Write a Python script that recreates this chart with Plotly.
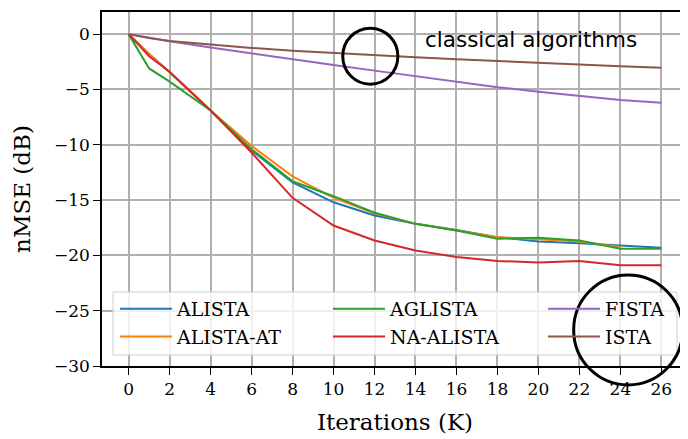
import plotly.graph_objects as go

# ---------------- data ----------------
x_learned = [0, 1, 2, 4, 6, 8, 10, 12, 14, 16, 18, 20, 22, 24, 26]
alista    = [0, -1.8, -3.45, -6.9, -10.5, -13.4, -15.2, -16.4, -17.15, -17.7, -18.35, -18.75, -18.9, -19.1, -19.3]
x_alista_at = [0, 1, 2, 4, 6, 8, 10, 12, 14, 16, 18, 20, 22, 24]
alista_at = [0, -1.8, -3.45, -6.9, -10.1, -12.85, -14.8, -16.2, -17.15, -17.75, -18.35, -18.55, -18.75, -19.25]
aglista   = [0, -3.1, -4.3, -6.9, -10.4, -13.3, -14.65, -16.15, -17.15, -17.75, -18.5, -18.4, -18.65, -19.4, -19.4]
na_alista = [0, -2.0, -3.4, -6.9, -10.7, -14.8, -17.3, -18.65, -19.55, -20.15, -20.5, -20.65, -20.5, -20.9, -20.9]
x_classic = [0, 1, 2, 4, 6, 8, 10, 12, 14, 16, 18, 20, 22, 24, 26]
fista     = [0, -0.35, -0.65, -1.2, -1.75, -2.3, -2.8, -3.3, -3.8, -4.3, -4.8, -5.2, -5.6, -5.95, -6.2]
ista      = [0, -0.35, -0.62, -0.95, -1.25, -1.5, -1.72, -1.92, -2.1, -2.28, -2.45, -2.6, -2.75, -2.9, -3.05]

x_ticks = list(range(0, 27, 2))
y_ticks = [0, -5, -10, -15, -20, -25, -30]

XMIN, XMAX = -1.3, 27.3
YMIN, YMAX = -30, 2

series = [
    ("ALISTA", x_learned, alista, "#1f77b4", "legend"),
    ("ALISTA-AT", x_alista_at, alista_at, "#ff7f0e", "legend"),
    ("AGLISTA", x_learned, aglista, "#2ca02c", "legend2"),
    ("NA-ALISTA", x_learned, na_alista, "#d62728", "legend2"),
    ("FISTA", x_classic, fista, "#9467bd", "legend3"),
    ("ISTA", x_classic, ista, "#8c564b", "legend3"),
]

SERIF = "DejaVu Serif"

# page geometry: the html body adds an 8px offset
OFF = 8
W, H = 688, 439
P_L, P_R, P_T, P_B = 102, 688, 12, 366   # plot area on screen
ML, MT = P_L - OFF, P_T - OFF
MR = W - (P_R - OFF)
MB = H - (P_B - OFF)

def ppx(s):
    return (s - P_L) / (P_R - P_L)

def ppy(s):
    return (P_B - s) / (P_B - P_T)

def dx(v):
    return (v - XMIN) / (XMAX - XMIN)

def dy(v):
    return (v - YMIN) / (YMAX - YMIN)

fig = go.Figure()
for name, xs, ys, col, lg in series:
    fig.add_trace(go.Scatter(x=xs, y=ys, mode="lines", name=name,
                             line=dict(color=col, width=2), legend=lg))

# legend frame (shape so the circle can be drawn over it)
fig.add_shape(type="rect", xref="paper", yref="paper",
              x0=ppx(113), x1=ppx(677), y0=ppy(355), y1=ppy(292),
              line=dict(color="#d0d0d0", width=1), fillcolor="rgba(255,255,255,0.8)",
              layer="above")

circles = [(10.45, 13.14, -4.52, 0.54), (21.72, 27.04, -31.71, -21.77)]
for x0, x1, y0, y1 in circles:
    fig.add_shape(type="circle", xref="paper", yref="paper",
                  x0=dx(x0), x1=dx(x1), y0=dy(y0), y1=dy(y1),
                  line=dict(color="black", width=3), layer="above")

fig.add_annotation(x=14.35, y=-0.5, xref="x", yref="y", text="classical algorithms",
                   showarrow=False, xanchor="left", yanchor="middle",
                   font=dict(family="DejaVu Sans", size=21.5, color="black"))

leg_common = dict(orientation="v", yanchor="top", xanchor="left",
                  itemwidth=52, bgcolor="rgba(0,0,0,0)", borderwidth=0,
                  font=dict(family=SERIF, size=19), tracegroupgap=0)
leg_cols = [115, 328, 543]
leg_top = 290

fig.update_layout(
    width=W, height=H,
    margin=dict(l=ML, r=MR, t=MT, b=MB),
    paper_bgcolor="white", plot_bgcolor="white",
    font=dict(family=SERIF, size=17, color="black"),
    showlegend=True,
    legend=dict(x=ppx(leg_cols[0]), y=ppy(leg_top), **leg_common),
    legend2=dict(x=ppx(leg_cols[1]), y=ppy(leg_top), **leg_common),
    legend3=dict(x=ppx(leg_cols[2]), y=ppy(leg_top), **leg_common),
)
fig.update_xaxes(range=[XMIN, XMAX], tickvals=x_ticks, ticks="outside", ticklen=7,
                 tickwidth=1.3, tickcolor="black", showgrid=True, gridcolor="#b0b0b0", gridwidth=1.5,
                 showline=True, linecolor="black", linewidth=1.5, mirror=True, automargin=False,
                 zeroline=False, title=dict(text="Iterations (K)", font=dict(size=23), standoff=16),
                 tickfont=dict(size=17))
fig.update_yaxes(range=[YMIN, YMAX], tickvals=y_ticks, ticks="outside", ticklen=7,
                 tickwidth=1.3, tickcolor="black", showgrid=True, gridcolor="#b0b0b0", gridwidth=1.5,
                 showline=True, linecolor="black", linewidth=1.5, automargin=False,
                 zeroline=False, title=dict(text="nMSE (dB)", font=dict(size=23), standoff=17),
                 tickfont=dict(size=17))

fig.write_html("out.html")
